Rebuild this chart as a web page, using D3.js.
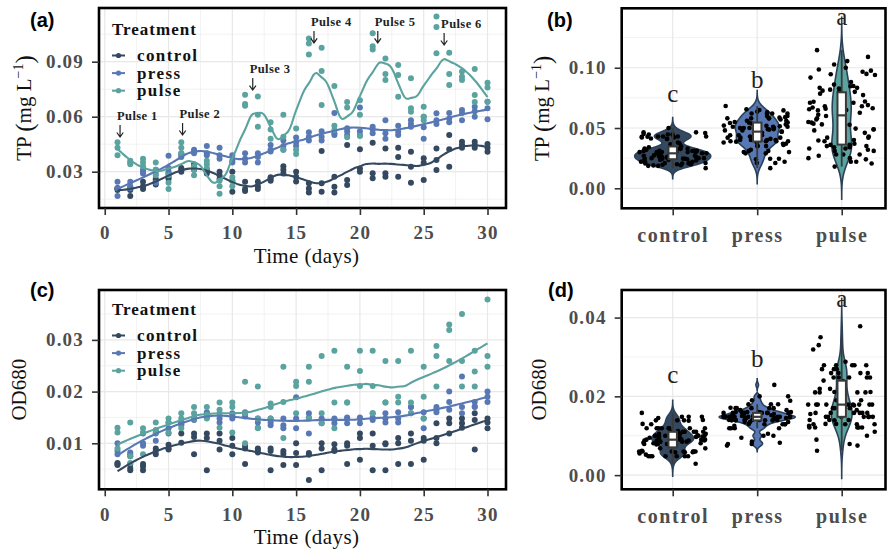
<!DOCTYPE html>
<html><head><meta charset="utf-8">
<script src="https://cdn.jsdelivr.net/npm/d3@7"></script>
<style>
body{margin:0;background:#fff}
svg{display:block}
</style></head><body>
<svg id="fig" width="887" height="549"></svg>
<script>
// ---- data: three replicate tanks per treatment, days 1–30 ----
const days = d3.range(1, 31);
const treatments = ["control", "press", "pulse"];
const treatmentColors = ["#34495f", "#5878b4", "#5aa39f"];

// Total phosphorus (mg L-1), 3 replicates per day, day 1 → 30
const tpControl = [
  0.021,0.021,0.020, 0.021,0.0167,0.020, 0.0245,0.0205,0.022, 0.026,0.025,0.023, 0.029,0.027,0.026,
  0.032,0.031,0.030, 0.034,0.033,0.031, 0.031,0.030,0.029, 0.030,0.028,0.026, 0.030,0.025,0.019,
  0.0245,0.0205,0.0195, 0.0245,0.0205,0.022, 0.027,0.026,0.025, 0.033,0.031,0.029, 0.030,0.0273,0.0246,
  0.0237,0.0209,0.0186, 0.0413,0.0237,0.0191, 0.0273,0.0218,0.0186, 0.0446,0.0255,0.0227, 0.0422,0.0318,0.030,
  0.0458,0.0291,0.0264, 0.0427,0.0291,0.0273, 0.043,0.038,0.0273, 0.0409,0.0327,0.024, 0.0373,0.0349,0.0255,
  0.0427,0.0364,0.0309, 0.050,0.0422,0.0327, 0.0464,0.0446,0.043, 0.0464,0.0446,0.043, 0.0451,0.0409,0.043
];
const tpPress = [
  0.0245,0.021,0.0167, 0.0245,0.021,0.022, 0.031,0.029,0.030, 0.031,0.029,0.024, 0.0387,0.030,0.032,
  0.040,0.039,0.038, 0.042,0.040,0.041, 0.044,0.040,0.039, 0.043,0.039,0.037, 0.039,0.035,0.036,
  0.040,0.037,0.035, 0.040,0.038,0.035, 0.0445,0.042,0.041, 0.044,0.042,0.047, 0.0487,0.046,0.044,
  0.0515,0.049,0.047, 0.052,0.049,0.047, 0.062,0.051,0.050, 0.0537,0.052,0.050, 0.065,0.052,0.050,
  0.0545,0.053,0.051, 0.058,0.051,0.048, 0.055,0.0518,0.050, 0.0545,0.058,0.056, 0.060,0.0542,0.048,
  0.0619,0.058,0.056, 0.062,0.059,0.057, 0.0636,0.062,0.058, 0.0655,0.063,0.060, 0.0682,0.0646,0.0586
];
const tpPulse = [
  0.046,0.043,0.039, 0.035,0.034,0.036, 0.037,0.035,0.033, 0.035,0.031,0.028, 0.028,0.024,0.0205,
  0.046,0.043,0.040, 0.031,0.028,0.033, 0.036,0.034,0.032, 0.018,0.022,0.025, 0.025,0.022,0.027,
  0.072,0.067,0.066, 0.071,0.061,0.0545, 0.057,0.053,0.048, 0.061,0.049,0.042, 0.0536,0.042,0.0396,
  0.1027,0.100,0.094, 0.0976,0.0849,0.0664, 0.0767,0.0527,0.055, 0.068,0.065,0.0488, 0.069,0.061,0.0495,
  0.1055,0.0985,0.0967, 0.0918,0.0833,0.080, 0.0882,0.0827,0.0709, 0.081,0.0646,0.0627, 0.0655,0.060,0.058,
  0.1146,0.109,0.0946, 0.0949,0.0833,0.0773, 0.0846,0.0818,0.080, 0.086,0.0718,0.068, 0.0785,0.076,0.0682
];

// Optical density at 680 nm
const odControl = [
  0.0060,0.0062,0.0058, 0.0060,0.0048,0.0052, 0.0060,0.0048,0.0055, 0.0090,0.0079,0.0085, 0.0097,0.0090,0.0088,
  0.0138,0.0119,0.0101, 0.0119,0.0079,0.0112, 0.0119,0.0048,0.0110, 0.0119,0.0105,0.0088, 0.0110,0.0095,0.0079,
  0.0095,0.0090,0.0060, 0.0090,0.0087,0.0082, 0.0090,0.0085,0.0048, 0.0085,0.0080,0.0058, 0.0100,0.0081,0.0058,
  0.0081,0.0078,0.0029, 0.0100,0.0090,0.0048, 0.0098,0.0088,0.0085, 0.0100,0.0095,0.0060, 0.0119,0.0110,0.0068,
  0.0119,0.0095,0.0048, 0.0100,0.0098,0.0048, 0.0110,0.0100,0.0060, 0.0119,0.0105,0.0060, 0.0110,0.0105,0.0068,
  0.0139,0.0110,0.0100, 0.0148,0.0139,0.0119, 0.0148,0.0139,0.0130, 0.0158,0.0145,0.0088, 0.0148,0.0129,0.0140
];
const odPress = [
  0.0100,0.0079,0.0085, 0.0082,0.0079,0.0075, 0.0119,0.0100,0.0095, 0.0125,0.0119,0.0105, 0.0140,0.0129,0.0119,
  0.0142,0.0140,0.0135, 0.0150,0.0148,0.0145, 0.0160,0.0158,0.0150, 0.0158,0.0148,0.0140, 0.0158,0.0155,0.0148,
  0.0160,0.0158,0.0152, 0.0148,0.0140,0.0130, 0.0148,0.0140,0.0135, 0.0148,0.0135,0.0129, 0.0189,0.0148,0.0129,
  0.0158,0.0150,0.0119, 0.0148,0.0139,0.0145, 0.0148,0.0139,0.0145, 0.0148,0.0139,0.0150, 0.0148,0.0139,0.0150,
  0.0158,0.0150,0.0145, 0.0158,0.0148,0.0140, 0.0160,0.0148,0.0140, 0.0170,0.0170,0.0158, 0.0160,0.0148,0.0129,
  0.0170,0.0165,0.0160, 0.0200,0.0180,0.0165, 0.0229,0.0158,0.0170, 0.0171,0.0170,0.0180, 0.0200,0.0190,0.0180
];
const odPulse = [
  0.0130,0.0121,0.0090, 0.0140,0.0075,0.0062, 0.0129,0.0121,0.0079, 0.0140,0.0125,0.0121, 0.0148,0.0140,0.0121,
  0.0158,0.0148,0.0129, 0.0170,0.0158,0.0148, 0.0170,0.0155,0.0148, 0.0179,0.0165,0.0130, 0.0179,0.0170,0.0121,
  0.0219,0.0158,0.0100, 0.0210,0.0148,0.0129, 0.0177,0.0170,0.0148, 0.0248,0.0180,0.0110, 0.0219,0.0211,0.0158,
  0.0248,0.0219,0.0148, 0.0269,0.0158,0.0139, 0.0279,0.0179,0.0129, 0.0248,0.0179,0.0179, 0.0279,0.0240,0.0211,
  0.0279,0.0211,0.0158, 0.0259,0.0179,0.0179, 0.0259,0.0190,0.0179, 0.0279,0.0179,0.0158, 0.0248,0.0190,0.0148,
  0.0288,0.0269,0.0210, 0.0330,0.0319,0.0259, 0.0350,0.0259,0.0210, 0.0279,0.0239,0.0210, 0.0378,0.0269,0.0248
];

// Pulse events marked on the TP time series
const pulseLabels = ["Pulse 1", "Pulse 2", "Pulse 3", "Pulse 4", "Pulse 5", "Pulse 6"];
const pulseDays = [1.2, 6.1, 11.6, 16.4, 21.4, 26.6];
const pulseLabelTP = [0.0582, 0.0593, 0.0838, 0.1095, 0.1095, 0.1084];

// Significance letters above the violins
const sigLetters = ["c", "b", "a"];
const sigTP = [0.0718, 0.0829, 0.1354];
const sigOD = [0.0233, 0.0275, 0.0426];

const xTicks = [0, 5, 10, 15, 20, 25, 30];
const tpTicks = [0.03, 0.06, 0.09];
const odTicks = [0.01, 0.02, 0.03];
const tpViolinTicks = [0.00, 0.05, 0.10];
const odViolinTicks = [0.00, 0.02, 0.04];

// ---- helpers ----
const SERIF = "'Liberation Serif','Times New Roman',serif";
const SANS = "'Liberation Sans',Arial,sans-serif";
const svg = d3.select("#fig");
const dayX = days.flatMap(d => [d, d, d]);

// local quadratic regression with tricube weights
function loess(xs, ys, span, nOut) {
  const n = xs.length, q = Math.floor(n * span);
  const x0 = d3.min(xs), x1 = d3.max(xs);
  const out = [];
  for (let k = 0; k < nOut; k++) {
    const x = x0 + (x1 - x0) * k / (nOut - 1);
    const dist = xs.map(v => Math.abs(v - x));
    const h = Math.max(dist.slice().sort((a, b) => a - b)[q - 1], 1e-9) * 1.0001;
    const S = [[0,0,0],[0,0,0],[0,0,0]], T = [0,0,0];
    for (let i = 0; i < n; i++) {
      const u = dist[i] / h;
      if (u >= 1) continue;
      const w = Math.pow(1 - u * u * u, 3);
      const dx = xs[i] - x, b = [1, dx, dx * dx];
      for (let r = 0; r < 3; r++) {
        T[r] += w * b[r] * ys[i];
        for (let c = 0; c < 3; c++) S[r][c] += w * b[r] * b[c];
      }
    }
    const M = S.map((row, r) => row.concat([T[r]]));
    for (let c = 0; c < 3; c++) {
      let p = c;
      for (let r = c + 1; r < 3; r++) if (Math.abs(M[r][c]) > Math.abs(M[p][c])) p = r;
      [M[c], M[p]] = [M[p], M[c]];
      for (let r = c + 1; r < 3; r++) {
        const f = M[r][c] / M[c][c];
        for (let k2 = c; k2 < 4; k2++) M[r][k2] -= f * M[c][k2];
      }
    }
    const beta = [0, 0, 0];
    for (let r = 2; r >= 0; r--) {
      let s = M[r][3];
      for (let c = r + 1; c < 3; c++) s -= M[r][c] * beta[c];
      beta[r] = s / M[r][r];
    }
    out.push([x, beta[0]]);
  }
  return out;
}

function nrd0(v) {
  const s = v.slice().sort(d3.ascending);
  const iqr = (d3.quantile(s, 0.75) - d3.quantile(s, 0.25)) / 1.34;
  return 0.9 * Math.min(d3.deviation(v), iqr) * Math.pow(v.length, -0.2);
}
function kde(v) {
  const bw = nrd0(v);
  const lo = d3.min(v) - 3 * bw, hi = d3.max(v) + 3 * bw;
  return d3.range(512).map(i => {
    const y = lo + (hi - lo) * i / 511;
    const dens = d3.mean(v, x => Math.exp(-0.5 * ((y - x) / bw) ** 2)) / (bw * Math.sqrt(2 * Math.PI));
    return [y, dens];
  });
}

function gridLines(g, x0, x1, y0, y1, vLines, hMajor, hMinor, vMinor) {
  const grid = g.append("g");
  (vMinor || []).forEach(v => grid.append("line").attr("x1", v).attr("x2", v).attr("y1", y0).attr("y2", y1)
    .attr("stroke", "#ececec").attr("stroke-width", 0.7));
  hMinor.forEach(v => grid.append("line").attr("x1", x0).attr("x2", x1).attr("y1", v).attr("y2", v)
    .attr("stroke", "#ececec").attr("stroke-width", 0.7));
  vLines.forEach(v => grid.append("line").attr("x1", v).attr("x2", v).attr("y1", y0).attr("y2", y1)
    .attr("stroke", "#e8e8e8").attr("stroke-width", 1.2));
  hMajor.forEach(v => grid.append("line").attr("x1", x0).attr("x2", x1).attr("y1", v).attr("y2", v)
    .attr("stroke", "#e8e8e8").attr("stroke-width", 1.2));
}
function border(g, x0, x1, y0, y1) {
  g.append("rect").attr("x", x0).attr("y", y0).attr("width", x1 - x0).attr("height", y1 - y0)
    .attr("fill", "none").attr("stroke", "#000").attr("stroke-width", 2.6);
}
function styleAxis(sel, size) {
  sel.select(".domain").remove();
  sel.selectAll(".tick line").attr("stroke", "#333").attr("stroke-width", 1.6);
  sel.selectAll(".tick text").attr("font-family", SERIF).attr("font-weight", "bold")
    .attr("font-size", size).attr("fill", "#4d4d4d").attr("letter-spacing", "1.2px");
}
function panelTag(txt, x, y) {
  svg.append("text").attr("x", x).attr("y", y).text(txt)
    .attr("font-family", SANS).attr("font-weight", "bold").attr("font-size", 20).attr("fill", "#000");
}

// ---- time-series panel ----
function timePanel(o) {
  const g = svg.append("g");
  const x = d3.scaleLinear().domain([-0.45, 31.45]).range([o.left, o.right]);
  const y = d3.scaleLinear().domain(o.yDomain).range([o.bottom, o.top]);
  const minorX = d3.range(-2.5, 33, 5).filter(v => x(v) > o.left && x(v) < o.right).map(x);
  const step = o.yTicks[1] - o.yTicks[0];
  const minorY = d3.range(o.yTicks[0] - step * 1.5, o.yDomain[1], step)
    .filter(v => y(v) > o.top && y(v) < o.bottom).map(y);
  gridLines(g, o.left, o.right, o.top, o.bottom, xTicks.map(x), o.yTicks.map(y), minorY, minorX);

  o.series.forEach((vals, i) => {
    g.append("g").selectAll("circle").data(vals).join("circle")
      .attr("cx", (d, j) => x(dayX[j])).attr("cy", d => y(d)).attr("r", 3)
      .attr("fill", treatmentColors[i]);
  });
  const line = d3.line().x(d => x(d[0])).y(d => y(d[1])).curve(d3.curveBasis);
  o.series.forEach((vals, i) => {
    g.append("path").attr("d", line(loess(dayX, vals, o.span, 120)))
      .attr("fill", "none").attr("stroke", treatmentColors[i]).attr("stroke-width", 2.1);
  });

  if (o.pulses) {
    pulseLabels.forEach((lab, i) => {
      const px = x(pulseDays[i]), py = y(pulseLabelTP[i]);
      g.append("text").attr("x", px - 3).attr("y", py).text(lab)
        .attr("font-family", SERIF).attr("font-weight", "bold").attr("font-size", 12.5)
        .attr("letter-spacing", "0.4px").attr("fill", "#222");
      g.append("path").attr("d", `M${px},${py + 5}V${py + 17}M${px - 3.2},${py + 12.5}L${px},${py + 17}L${px + 3.2},${py + 12.5}`)
        .attr("fill", "none").attr("stroke", "#222").attr("stroke-width", 1.2);
    });
  }

  // legend
  const lg = g.append("g");
  lg.append("text").attr("x", o.left + 13).attr("y", o.top + o.legendY).text("Treatment")
    .attr("font-family", SERIF).attr("font-weight", "bold").attr("font-size", 17)
    .attr("letter-spacing", "1px").attr("fill", "#111");
  treatments.forEach((t, i) => {
    const ky = o.top + o.legendY + 20.5 + i * 17.6;
    lg.append("line").attr("x1", o.left + 13).attr("x2", o.left + 26).attr("y1", ky).attr("y2", ky)
      .attr("stroke", treatmentColors[i]).attr("stroke-width", 2);
    lg.append("circle").attr("cx", o.left + 19.5).attr("cy", ky).attr("r", 2.6).attr("fill", treatmentColors[i]);
    lg.append("text").attr("x", o.left + 38).attr("y", ky + 5.5).text(t)
      .attr("font-family", SERIF).attr("font-weight", "bold").attr("font-size", 17)
      .attr("letter-spacing", "1.4px").attr("fill", "#111");
  });

  border(g, o.left, o.right, o.top, o.bottom);

  const ax = g.append("g").attr("transform", `translate(0,${o.bottom})`)
    .call(d3.axisBottom(x).tickValues(xTicks).tickSize(7).tickPadding(11).tickFormat(d3.format("d")));
  styleAxis(ax, 19);
  ax.selectAll(".tick text").attr("dy", "0.71em");
  const ay = g.append("g").attr("transform", `translate(${o.left},0)`)
    .call(d3.axisLeft(y).tickValues(o.yTicks).tickSize(7).tickPadding(8).tickFormat(d3.format(".2f")));
  styleAxis(ay, 19);

  g.append("text").attr("x", (o.left + o.right) / 2 + 4).attr("y", o.bottom + 55).attr("text-anchor", "middle")
    .attr("font-family", SERIF).attr("font-size", 21).attr("letter-spacing", "0.4px").attr("fill", "#111")
    .text("Time (days)");
  o.yTitle(g, (o.top + o.bottom) / 2);
}

// ---- violin panel ----
function violinPanel(o) {
  const g = svg.append("g");
  const x = d3.scalePoint().domain(treatments).range([672.7, 841.7]);
  const bandStep = x.step();
  const y = d3.scaleLinear().domain(o.yDomain).range([o.bottom, o.top]);
  const step = o.yTicks[1] - o.yTicks[0];
  const minorY = d3.range(o.yTicks[0] - step / 2, o.yDomain[1], step)
    .filter(v => y(v) > o.top && y(v) < o.bottom).map(y);
  gridLines(g, o.left, o.right, o.top, o.bottom, treatments.map(x), o.yTicks.map(y), minorY, []);

  const dens = o.series.map(kde);
  const maxD = d3.max(dens, ds => d3.max(ds, d => d[1]));
  const half = 0.45 * bandStep;
  o.series.forEach((vals, i) => {
    const cx = x(treatments[i]);
    const area = d3.area().y(d => y(d[0]))
      .x0(d => cx - half * d[1] / maxD).x1(d => cx + half * d[1] / maxD);
    g.append("path").attr("d", area(dens[i])).attr("fill", treatmentColors[i])
      .attr("stroke", "#2b4159").attr("stroke-width", 1.6);
  });

  // jittered observations
  const rng = d3.randomLcg(o.seed);
  o.series.forEach((vals, i) => {
    const cx = x(treatments[i]);
    const offs = vals.map(() => (rng() * 2 - 1) * 0.4 * bandStep);
    g.append("g").selectAll("circle").data(vals).join("circle")
      .attr("cx", (d, j) => cx + offs[j]).attr("cy", d => y(d)).attr("r", 2.3).attr("fill", "#000");
  });

  // box plots (whiskers at 1.5 IQR, outliers not drawn)
  const bw = 0.1 * bandStep;
  o.series.forEach((vals, i) => {
    const cx = x(treatments[i]);
    const s = vals.slice().sort(d3.ascending);
    const q1 = d3.quantile(s, 0.25), q2 = d3.quantile(s, 0.5), q3 = d3.quantile(s, 0.75);
    const iqr = q3 - q1;
    const lo = d3.min(s.filter(v => v >= q1 - 1.5 * iqr));
    const hi = d3.max(s.filter(v => v <= q3 + 1.5 * iqr));
    const bg = g.append("g");
    bg.append("line").attr("x1", cx).attr("x2", cx).attr("y1", y(hi)).attr("y2", y(q3))
      .attr("stroke", "#3a3a3a").attr("stroke-width", 1.8);
    bg.append("line").attr("x1", cx).attr("x2", cx).attr("y1", y(q1)).attr("y2", y(lo))
      .attr("stroke", "#3a3a3a").attr("stroke-width", 1.8);
    bg.append("rect").attr("x", cx - bw / 2).attr("y", y(q3)).attr("width", bw).attr("height", y(q1) - y(q3))
      .attr("fill", "#fff").attr("stroke", "#3a3a3a").attr("stroke-width", 2);
    bg.append("line").attr("x1", cx - bw / 2).attr("x2", cx + bw / 2).attr("y1", y(q2)).attr("y2", y(q2))
      .attr("stroke", "#3a3a3a").attr("stroke-width", 2.2);
    g.append("text").attr("x", cx).attr("y", y(o.sig[i])).attr("text-anchor", "middle")
      .attr("font-family", SERIF).attr("font-size", 25).attr("fill", "#222").text(sigLetters[i]);
  });

  border(g, o.left, o.right, o.top, o.bottom);

  const ax = g.append("g").attr("transform", `translate(0,${o.bottom})`)
    .call(d3.axisBottom(x).tickSize(7).tickPadding(13));
  styleAxis(ax, 20);
  ax.selectAll(".tick text").attr("dy", "0.71em").attr("letter-spacing", "1.6px");
  const ay = g.append("g").attr("transform", `translate(${o.left},0)`)
    .call(d3.axisLeft(y).tickValues(o.yTicks).tickSize(7).tickPadding(8).tickFormat(d3.format(".2f")));
  styleAxis(ay, 19);
  o.yTitle(g, (o.top + o.bottom) / 2);
}

function tpTitle(xb) {
  return (g, cy) => {
    const t = g.append("text").attr("transform", `translate(${xb},${cy}) rotate(-90)`)
      .attr("text-anchor", "middle").attr("font-family", SERIF).attr("font-size", 21).attr("fill", "#111");
    t.append("tspan").text("TP ");
    t.append("tspan").attr("font-size", 25).attr("dy", "1.5").text("(");
    t.append("tspan").attr("dy", "-1.5").text("mg L");
    t.append("tspan").attr("font-size", 14).attr("dy", "-8").text("\u22121");
    t.append("tspan").attr("font-size", 25).attr("dy", "9.5").text(")");
  };
}
function odTitle(xb) {
  return (g, cy) => g.append("text").attr("transform", `translate(${xb},${cy}) rotate(-90)`)
    .attr("text-anchor", "middle").attr("font-family", SERIF).attr("font-size", 21).attr("fill", "#111")
    .text("OD680");
}

timePanel({
  left: 99, right: 506, top: 8, bottom: 208, yDomain: [0.0102, 0.1193], yTicks: tpTicks,
  series: [tpControl, tpPress, tpPulse], span: 0.25, pulses: true, legendY: 27, yTitle: tpTitle(31)
});
violinPanel({
  left: 621.7, right: 885.5, top: 8.3, bottom: 208.3, yDomain: [-0.0166, 0.1493], yTicks: tpViolinTicks,
  series: [tpControl, tpPress, tpPulse], sig: sigTP, seed: 0.31, yTitle: tpTitle(549)
});
timePanel({
  left: 99, right: 506, top: 290, bottom: 489.3, yDomain: [0.0011, 0.03965], yTicks: odTicks,
  series: [odControl, odPress, odPulse], span: 0.45, pulses: false, legendY: 25, yTitle: odTitle(26)
});
violinPanel({
  left: 621.7, right: 885.5, top: 290, bottom: 489.3, yDomain: [-0.0036, 0.047], yTicks: odViolinTicks,
  series: [odControl, odPress, odPulse], sig: sigOD, seed: 0.77, yTitle: odTitle(546)
});

panelTag("(a)", 30, 27);
panelTag("(b)", 547, 27);
panelTag("(c)", 30, 297);
panelTag("(d)", 548, 297);
</script>
</body></html>
